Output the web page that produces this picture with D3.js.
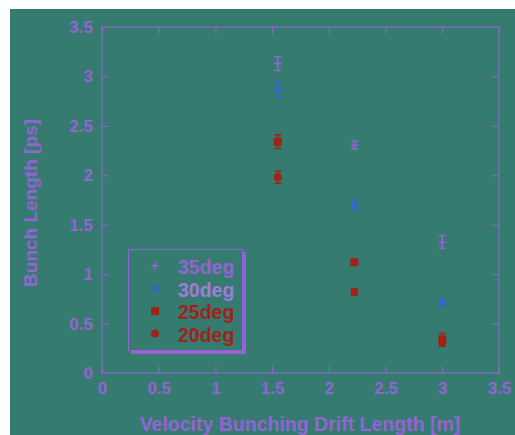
<!DOCTYPE html>
<html>
<head>
<meta charset="utf-8">
<script src="https://cdn.jsdelivr.net/npm/d3@7"></script>
<style>
  body { margin: 0; background: #fff; }
  text { font-family: "Liberation Sans", Arial, sans-serif; font-weight: bold; }
</style>
</head>
<body>
<script>
// Data
var drift = [1.55, 2.225, 3.0];
var series = ["35deg", "30deg", "25deg", "20deg"];
var bunch35 = [3.13, 2.305, 1.325];
var err35 = [0.07, 0.04, 0.065];
var bunch30 = [2.87, 1.695, 0.71];
var err30 = [0.08, 0.05, 0.04];
var bunch25 = [2.34, 1.12, 0.34];
var err25 = [0.07, 0.03, 0.06];
var bunch20 = [1.98, 0.82, 0.31];
var err20 = [0.06, 0.03, 0.04];
var ticks = [0, 0.5, 1, 1.5, 2, 2.5, 3, 3.5];

var purple = "#9563d6";
var blue = "#3565d2";
var red = "#a0231a";

var WIDTH = 515, HEIGHT = 435;
var svg = d3.select("body").append("svg").attr("width", WIDTH).attr("height", HEIGHT);

// teal background
svg.append("rect").attr("x", 10).attr("y", 9).attr("width", WIDTH - 10).attr("height", HEIGHT - 9)
    .attr("fill", "#357b70");

var x = d3.scaleLinear().domain([0, 3.5]).range([102, 499]);
var y = d3.scaleLinear().domain([0, 3.5]).range([373, 27]);

// frame
svg.append("rect").attr("x", 102).attr("y", 27).attr("width", 397).attr("height", 346)
    .attr("fill", "none").attr("stroke", purple).attr("stroke-width", 1);

// axes with inner ticks
var fmt = function(d) { return String(d); };
svg.append("g").attr("transform", "translate(0,373)")
    .call(d3.axisBottom(x).tickValues(ticks).tickSize(-7).tickPadding(9).tickFormat(fmt));
svg.append("g").attr("transform", "translate(0,27)")
    .call(d3.axisTop(x).tickValues(ticks).tickSize(-7).tickFormat(""));
svg.append("g").attr("transform", "translate(102,0)")
    .call(d3.axisLeft(y).tickValues(ticks).tickSize(-7).tickPadding(9).tickFormat(fmt));
svg.append("g").attr("transform", "translate(499,0)")
    .call(d3.axisRight(y).tickValues(ticks).tickSize(-7).tickFormat(""));

svg.selectAll(".domain").remove();
svg.selectAll(".tick line").attr("stroke", purple);
svg.selectAll(".tick text").attr("fill", purple).attr("font-size", 17)
    .style("font-family", "Liberation Sans, Arial, sans-serif").style("font-weight", "bold");

// axis titles
svg.append("text").attr("x", 300).attr("y", 431).attr("text-anchor", "middle")
    .attr("font-size", 19.5).attr("fill", purple).text("Velocity Bunching Drift Length [m]");
svg.append("text").attr("transform", "translate(37,203) rotate(-90)").attr("text-anchor", "middle")
    .attr("font-size", 19).attr("fill", purple).text("Bunch Length [ps]");

// points
var all = [
  {name: "35deg", vals: bunch35, errs: err35, color: purple, shape: "plus"},
  {name: "30deg", vals: bunch30, errs: err30, color: blue, shape: "diamond"},
  {name: "25deg", vals: bunch25, errs: err25, color: red, shape: "square"},
  {name: "20deg", vals: bunch20, errs: err20, color: red, shape: "circle"}
];

function marker(g, shape, color) {
  if (shape == "plus") {
    g.append("path").attr("d", "M-4,0H4M0,-4V4").attr("stroke", color).attr("stroke-width", 1.5).attr("fill", "none");
  } else if (shape == "diamond") {
    g.append("path").attr("d", "M0,-4L4,0L0,4L-4,0Z").attr("fill", color);
  } else if (shape == "square") {
    g.append("rect").attr("x", -4).attr("y", -4).attr("width", 8).attr("height", 8).attr("fill", color);
  } else {
    g.append("circle").attr("r", 4).attr("fill", color);
  }
}

all.forEach(function(s) {
  var pts = svg.append("g");
  s.vals.forEach(function(v, i) {
    var cx = x(drift[i]);
    var top = y(v + s.errs[i]), bot = y(v - s.errs[i]);
    pts.append("path")
        .attr("d", "M" + cx + "," + top + "V" + bot + "M" + (cx - 3.5) + "," + top + "H" + (cx + 3.5) +
              "M" + (cx - 3.5) + "," + bot + "H" + (cx + 3.5))
        .attr("stroke", s.color).attr("stroke-width", 1.5).attr("fill", "none");
    var m = pts.append("g").attr("transform", "translate(" + cx + "," + y(v) + ")");
    marker(m, s.shape, s.color);
  });
});

// legend
var lg = svg.append("g");
lg.append("rect").attr("x", 131).attr("y", 252).attr("width", 115).attr("height", 102).attr("fill", purple);
lg.append("rect").attr("x", 128.5).attr("y", 249.5).attr("width", 114).attr("height", 101)
    .attr("fill", "#357b70").attr("stroke", purple).attr("stroke-width", 1);
var legendColors = [purple, "#a27ad8", red, red];
all.forEach(function(s, i) {
  var ly = 266 + i * 22.5;
  var m = lg.append("g").attr("transform", "translate(155," + ly + ")");
  marker(m, s.shape, s.color);
  lg.append("text").attr("x", 178).attr("y", ly + 8).attr("font-size", 19.5)
      .attr("fill", legendColors[i]).text(s.name);
});
</script>
</body>
</html>
